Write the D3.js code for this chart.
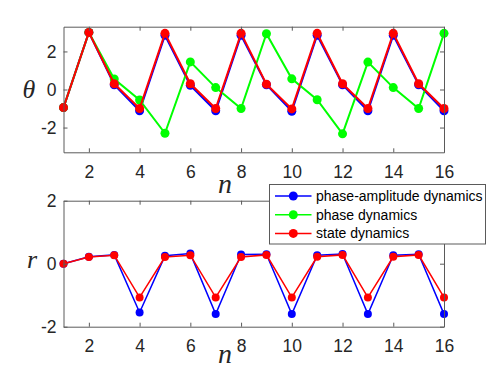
<!DOCTYPE html>
<html><head><meta charset="utf-8">
<script src="https://cdn.jsdelivr.net/npm/d3@7"></script>
<style>body{margin:0;background:#fff}svg{display:block}</style>
</head><body>
<script>
const n = d3.range(1, 17);
const thetaPA = [-0.95, 3.0, 0.25, -1.12, 2.85, 0.22, -1.12, 2.85, 0.25, -1.14, 2.85, 0.25, -1.12, 2.85, 0.25, -1.12];
const thetaPh = [-0.95, 3.0, 0.55, -0.55, -2.3, 1.45, 0.1, -1.0, 2.93, 0.56, -0.54, -2.33, 1.44, 0.1, -1.0, 2.95];
const thetaSt = [-0.95, 3.0, 0.3, -1.0, 2.95, 0.3, -1.0, 2.95, 0.28, -1.02, 2.95, 0.3, -1.0, 2.95, 0.3, -1.0];
const rPA = [0.0, 0.22, 0.28, -1.55, 0.25, 0.32, -1.6, 0.29, 0.3, -1.6, 0.27, 0.31, -1.6, 0.27, 0.3, -1.6];
const rSt = [0.0, 0.21, 0.27, -1.07, 0.21, 0.27, -1.07, 0.21, 0.28, -1.07, 0.22, 0.28, -1.07, 0.22, 0.28, -1.07];
const xTicks = [2, 4, 6, 8, 10, 12, 14, 16];
const thetaTicks = [-2, 0, 2];
const rTicks = [-2, 0, 2];
const legendLabels = ["phase-amplitude dynamics", "phase dynamics", "state dynamics"];
const colors = ["#0000ff", "#00ff00", "#ff0000"];

const W = 491, H = 368;
const svg = d3.select("body").append("svg").attr("width", W).attr("height", H);
const axisColor = "#5a5a5a";
const font = "Liberation Sans, Arial, sans-serif";
const serif = "Liberation Serif, DejaVu Serif, serif";

const x = d3.scaleLinear().domain([1, 16]).range([63.5, 444]);

function panel(top, bottom, domain, yTicks, series, rad, lw, ylab, ylabX, ylabY, ylabSize, nlabY) {
  const y = d3.scaleLinear().domain(domain).range([bottom, top]);
  const g = svg.append("g");
  series.forEach(s => {
    const data = n.map((v, i) => [v, s.vals[i]]);
    g.append("path").datum(data)
      .attr("fill", "none").attr("stroke", s.color).attr("stroke-width", lw)
      .attr("d", d3.line().x(d => x(d[0])).y(d => y(d[1])));
    g.selectAll(null).data(data).enter().append("circle")
      .attr("cx", d => x(d[0])).attr("cy", d => y(d[1])).attr("r", rad)
      .attr("fill", s.color);
  });
  const ax = svg.append("g");
  const fmt = d => String(d);
  const bx = d3.axisBottom(x).tickValues(xTicks).tickSizeInner(-4).tickSizeOuter(0).tickPadding(13).tickFormat(fmt);
  const tx = d3.axisTop(x).tickValues(xTicks).tickSizeInner(-4).tickSizeOuter(0).tickFormat("");
  const ly = d3.axisLeft(y).tickValues(yTicks).tickSizeInner(-4).tickSizeOuter(0).tickPadding(7).tickFormat(fmt);
  const ry = d3.axisRight(y).tickValues(yTicks).tickSizeInner(-4).tickSizeOuter(0).tickFormat("");
  [[bx, `translate(0,${bottom})`], [tx, `translate(0,${top})`], [ly, `translate(${x.range()[0]},0)`], [ry, `translate(${x.range()[1]},0)`]].forEach(([a, t]) => {
    const gg = ax.append("g").attr("transform", t).call(a);
    gg.select(".domain").attr("stroke", axisColor).attr("stroke-width", 1);
    gg.selectAll(".tick line").attr("stroke", axisColor);
    gg.selectAll("text").attr("fill", "#262626").style("font-family", font).style("font-size", "17.5px");
  });
  svg.append("text").attr("x", ylabX).attr("y", ylabY).attr("text-anchor", "middle")
    .style("font-family", serif).style("font-style", "italic")
    .style("font-size", ylabSize).attr("fill", "#262626").text(ylab);
  svg.append("text").attr("x", 225).attr("y", nlabY).attr("text-anchor", "middle")
    .style("font-family", serif).style("font-style", "italic")
    .style("font-size", "28px").attr("fill", "#262626").text("n");
}

panel(26.7, 152.3, [-3.3, 3.3], thetaTicks,
  [{vals: thetaPA, color: colors[0]}, {vals: thetaPh, color: colors[1]}, {vals: thetaSt, color: colors[2]}],
  4.5, 2, "θ", 29, 98, "26px", 193);
panel(200.7, 326.7, [-2, 2], rTicks,
  [{vals: rPA, color: colors[0]}, {vals: rSt, color: colors[2]}],
  4, 1.5, "r", 32, 268, "26px", 363);

const lg = svg.append("g");
lg.append("rect").attr("x", 269.5).attr("y", 184.5).attr("width", 216).attr("height", 59.5)
  .attr("fill", "#fff").attr("stroke", axisColor).attr("stroke-width", 1);
legendLabels.forEach((lab, i) => {
  const yy = 196 + i * 18.7;
  lg.append("line").attr("x1", 275).attr("x2", 311.5).attr("y1", yy).attr("y2", yy)
    .attr("stroke", colors[i]).attr("stroke-width", 1.5);
  lg.append("circle").attr("cx", 293.3).attr("cy", yy).attr("r", 4.5).attr("fill", colors[i]);
  lg.append("text").attr("x", 316).attr("y", yy).attr("dy", "0.35em")
    .style("font-family", font).style("font-size", "14px").attr("fill", "#000").text(lab);
});
</script>
</body></html>
